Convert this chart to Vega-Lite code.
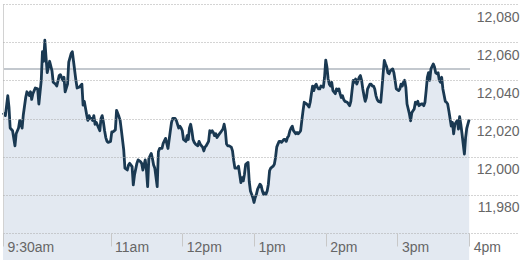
{
  "$schema": "https://vega.github.io/schema/vega-lite/v6.json",
  "width": 514,
  "height": 229,
  "autosize": {"type": "none"},
  "padding": {"left": 3, "top": 4, "right": 11, "bottom": 27},
  "background": "white",
  "config": {
    "view": {"stroke": null},
    "font": "Liberation Sans",
    "axis": {"labelFont": "Liberation Sans", "labelFontSize": 14, "labelColor": "#666666", "title": null}
  },
  "data": {"values": [
    {"m":0,"v":12023},{"m":2,"v":12021.5},{"m":4,"v":12032},{"m":5,"v":12026},{"m":6,"v":12015},{"m":8,"v":12013.6},{"m":10,"v":12005.7},{"m":11,"v":12012},{"m":13,"v":12015},{"m":14,"v":12019},{"m":16,"v":12015},{"m":17,"v":12022},{"m":19,"v":12031},{"m":20,"v":12034},{"m":22,"v":12032},{"m":23,"v":12034},{"m":24,"v":12030},{"m":25,"v":12033},{"m":27,"v":12036},{"m":29,"v":12035.5},{"m":30,"v":12027.6},{"m":32,"v":12040},{"m":33,"v":12055},{"m":34,"v":12050},{"m":35,"v":12061},{"m":36,"v":12052},{"m":37,"v":12044},{"m":38,"v":12047},{"m":39,"v":12050},{"m":41,"v":12045},{"m":42,"v":12039},{"m":44,"v":12038},{"m":45,"v":12037},{"m":47,"v":12042.5},{"m":48,"v":12043},{"m":50,"v":12040},{"m":51,"v":12041.6},{"m":52,"v":12034},{"m":54,"v":12038},{"m":55,"v":12049.5},{"m":57,"v":12054},{"m":58,"v":12055},{"m":59,"v":12050},{"m":61,"v":12040},{"m":62,"v":12036},{"m":64,"v":12036.5},{"m":66,"v":12038},{"m":67,"v":12027},{"m":68,"v":12029},{"m":70,"v":12022},{"m":71,"v":12019},{"m":72,"v":12021.5},{"m":73,"v":12020},{"m":74,"v":12020},{"m":75,"v":12019},{"m":76,"v":12021.5},{"m":77,"v":12017},{"m":78,"v":12018},{"m":80,"v":12015},{"m":81,"v":12013.6},{"m":82,"v":12020},{"m":83,"v":12021.5},{"m":84,"v":12018},{"m":85,"v":12013.6},{"m":86,"v":12010},{"m":87,"v":12008},{"m":88,"v":12007.5},{"m":90,"v":12008},{"m":91,"v":12013},{"m":92,"v":12013},{"m":94,"v":12014},{"m":95,"v":12024.3},{"m":97,"v":12021},{"m":98,"v":12019},{"m":99,"v":12014},{"m":101,"v":12003.5},{"m":102,"v":11994},{"m":104,"v":11993},{"m":105,"v":11995.6},{"m":106,"v":11996.5},{"m":108,"v":11994.8},{"m":109,"v":11985.2},{"m":110,"v":11990.4},{"m":112,"v":11996.5},{"m":113,"v":11998.3},{"m":115,"v":11997.4},{"m":116,"v":11996.5},{"m":117,"v":11993},{"m":119,"v":11998.3},{"m":120,"v":11993},{"m":121,"v":11984.3},{"m":122,"v":11999},{"m":124,"v":12001.7},{"m":125,"v":11999},{"m":126,"v":11995.6},{"m":127,"v":11994},{"m":129,"v":11984.3},{"m":130,"v":12002.6},{"m":131,"v":12004.3},{"m":133,"v":12004.3},{"m":134,"v":12007},{"m":136,"v":12009.6},{"m":137,"v":12007},{"m":138,"v":12004.3},{"m":140,"v":12013.6},{"m":141,"v":12018},{"m":142,"v":12020},{"m":144,"v":12020},{"m":145,"v":12019},{"m":146,"v":12017},{"m":147,"v":12015},{"m":148,"v":12016},{"m":149,"v":12015},{"m":150,"v":12013.6},{"m":151,"v":12009},{"m":153,"v":12008},{"m":154,"v":12011},{"m":155,"v":12009},{"m":156,"v":12015},{"m":157,"v":12017},{"m":158,"v":12013.6},{"m":159,"v":12009},{"m":160,"v":12007.5},{"m":161,"v":12006.6},{"m":163,"v":12005.7},{"m":164,"v":12008},{"m":165,"v":12006.6},{"m":166,"v":12005.7},{"m":167,"v":12005},{"m":168,"v":12003},{"m":169,"v":12005},{"m":170,"v":12005.7},{"m":172,"v":12008},{"m":173,"v":12013.6},{"m":174,"v":12012.7},{"m":175,"v":12013.6},{"m":176,"v":12012.7},{"m":177,"v":12011},{"m":178,"v":12012},{"m":179,"v":12010},{"m":180,"v":12011},{"m":182,"v":12012.7},{"m":183,"v":12013.6},{"m":184,"v":12014.5},{"m":185,"v":12017},{"m":186,"v":12013.6},{"m":187,"v":12006.6},{"m":188,"v":12005.7},{"m":189,"v":12005.7},{"m":191,"v":12005},{"m":192,"v":12003},{"m":193,"v":11998},{"m":194,"v":11994},{"m":196,"v":11994},{"m":197,"v":11995},{"m":198,"v":11990.8},{"m":199,"v":11986.4},{"m":200,"v":11989},{"m":201,"v":11987.3},{"m":202,"v":11990.8},{"m":203,"v":11996},{"m":205,"v":11997},{"m":206,"v":11987},{"m":207,"v":11982},{"m":208,"v":11980.3},{"m":209,"v":11978.6},{"m":210,"v":11976},{"m":211,"v":11978.6},{"m":212,"v":11980.3},{"m":213,"v":11983},{"m":215,"v":11985.6},{"m":216,"v":11984.7},{"m":217,"v":11982},{"m":218,"v":11980.3},{"m":219,"v":11981},{"m":220,"v":11980.3},{"m":221,"v":11982},{"m":222,"v":11985.6},{"m":223,"v":11992.6},{"m":224,"v":11994},{"m":226,"v":11995},{"m":227,"v":11996},{"m":228,"v":11999.6},{"m":229,"v":12005},{"m":230,"v":12006.6},{"m":231,"v":12008},{"m":232,"v":12008},{"m":233,"v":12007.5},{"m":235,"v":12009},{"m":236,"v":12009},{"m":237,"v":12008},{"m":238,"v":12010},{"m":239,"v":12011},{"m":240,"v":12013.6},{"m":241,"v":12015},{"m":242,"v":12016},{"m":243,"v":12013.6},{"m":245,"v":12012},{"m":246,"v":12012.7},{"m":247,"v":12012},{"m":248,"v":12012.7},{"m":249,"v":12013.6},{"m":250,"v":12019},{"m":251,"v":12024},{"m":252,"v":12028.5},{"m":254,"v":12027.6},{"m":255,"v":12027},{"m":256,"v":12026},{"m":257,"v":12028.5},{"m":258,"v":12033},{"m":259,"v":12037},{"m":260,"v":12034.6},{"m":261,"v":12037},{"m":262,"v":12038},{"m":263,"v":12036.4},{"m":264,"v":12035.5},{"m":265,"v":12035.5},{"m":266,"v":12037},{"m":268,"v":12036.4},{"m":269,"v":12041.6},{"m":270,"v":12050.6},{"m":271,"v":12047},{"m":272,"v":12040.7},{"m":273,"v":12038},{"m":274,"v":12037},{"m":275,"v":12039},{"m":276,"v":12034.6},{"m":278,"v":12033},{"m":279,"v":12035.5},{"m":280,"v":12034.6},{"m":281,"v":12035.5},{"m":282,"v":12033},{"m":283,"v":12031},{"m":284,"v":12032},{"m":285,"v":12030},{"m":286,"v":12029},{"m":288,"v":12028.5},{"m":289,"v":12027.6},{"m":290,"v":12026.7},{"m":291,"v":12029},{"m":292,"v":12034.6},{"m":293,"v":12040},{"m":294,"v":12039},{"m":295,"v":12040.7},{"m":296,"v":12038},{"m":298,"v":12041.6},{"m":299,"v":12042.5},{"m":300,"v":12040},{"m":301,"v":12035.5},{"m":302,"v":12032},{"m":303,"v":12029},{"m":304,"v":12031},{"m":305,"v":12035.5},{"m":307,"v":12038},{"m":308,"v":12038},{"m":309,"v":12037},{"m":310,"v":12037},{"m":311,"v":12035.5},{"m":312,"v":12032},{"m":313,"v":12030},{"m":314,"v":12029},{"m":316,"v":12028.5},{"m":317,"v":12035.5},{"m":318,"v":12043.4},{"m":319,"v":12050.4},{"m":320,"v":12048.6},{"m":321,"v":12047},{"m":322,"v":12044},{"m":323,"v":12043.4},{"m":324,"v":12045},{"m":326,"v":12046},{"m":327,"v":12044},{"m":328,"v":12040},{"m":329,"v":12035.5},{"m":331,"v":12034.6},{"m":332,"v":12035.5},{"m":333,"v":12038},{"m":334,"v":12037},{"m":335,"v":12039},{"m":336,"v":12040},{"m":337,"v":12036.4},{"m":338,"v":12027.6},{"m":340,"v":12022.4},{"m":341,"v":12018.8},{"m":342,"v":12023},{"m":343,"v":12024},{"m":344,"v":12025},{"m":345,"v":12028.5},{"m":346,"v":12027.6},{"m":347,"v":12029},{"m":348,"v":12026.7},{"m":350,"v":12027.6},{"m":351,"v":12027.6},{"m":352,"v":12026.7},{"m":353,"v":12028.5},{"m":354,"v":12034.6},{"m":355,"v":12041.6},{"m":356,"v":12044},{"m":357,"v":12040},{"m":358,"v":12046},{"m":360,"v":12048.6},{"m":361,"v":12047},{"m":362,"v":12044},{"m":363,"v":12043.4},{"m":364,"v":12044},{"m":365,"v":12040},{"m":366,"v":12039},{"m":367,"v":12041.6},{"m":368,"v":12035.5},{"m":370,"v":12029},{"m":371,"v":12028.5},{"m":372,"v":12027.6},{"m":373,"v":12024},{"m":374,"v":12020},{"m":375,"v":12016},{"m":376,"v":12018},{"m":377,"v":12012},{"m":378,"v":12017},{"m":380,"v":12019},{"m":381,"v":12014.5},{"m":382,"v":12021},{"m":383,"v":12017},{"m":384,"v":12012},{"m":385,"v":12006.6},{"m":386,"v":12001.4},{"m":387,"v":12010},{"m":388,"v":12015},{"m":390,"v":12019.5}
  ]},
  "encoding": {
    "x": {
      "field": "m", "type": "quantitative",
      "scale": {"domain": [0, 430], "nice": false, "zero": false},
      "axis": {
        "values": [0, 90, 150, 210, 270, 330, 390],
        "labelExpr": "datum.value == 0 ? '9:30am' : datum.value == 90 ? '11am' : datum.value == 150 ? '12pm' : datum.value == 210 ? '1pm' : datum.value == 270 ? '2pm' : datum.value == 330 ? '3pm' : '4pm'",
        "domain": false,
        "ticks": true, "tickSize": 13, "tickColor": "#c8c8c8", "tickWidth": 1,
        "labelAlign": "left", "labelBaseline": "alphabetic", "labelOffset": 4, "labelPadding": 5,
        "labelFlush": false, "labelOverlap": false,
        "grid": true, "gridColor": "#d2d2d2", "gridWidth": 1,
        "gridOpacity": {"condition": {"test": "datum.value === 0", "value": 1}, "value": 0},
        "zindex": 1
      }
    },
    "y": {
      "field": "v", "type": "quantitative",
      "scale": {"domain": [11960, 12080], "nice": false, "zero": false},
      "axis": {
        "orient": "right",
        "values": [11960, 11980, 12000, 12020, 12040, 12060, 12080],
        "labelExpr": "datum.value == 11960 ? '' : format(datum.value, ',')",
        "domain": false, "ticks": false,
        "grid": true, "gridColor": "#a8a8a8", "gridDash": [1, 2], "gridWidth": 1,
        "labelAlign": "right", "labelBaseline": "alphabetic", "labelPadding": 2, "labelOffset": 17,
        "labelOverlap": false, "labelFlush": false,
        "zindex": 1
      }
    }
  },
  "layer": [
    {"mark": {"type": "area", "color": "#e3e9f1"}},
    {
      "mark": {"type": "rule", "color": "#c3c8ce", "strokeWidth": 2},
      "encoding": {"y": {"datum": 12045.9}, "x": {"datum": 0}, "x2": {"datum": 390}}
    },
    {"mark": {"type": "line", "color": "#1a3952", "strokeWidth": 2.8, "strokeJoin": "round"}}
  ]
}
